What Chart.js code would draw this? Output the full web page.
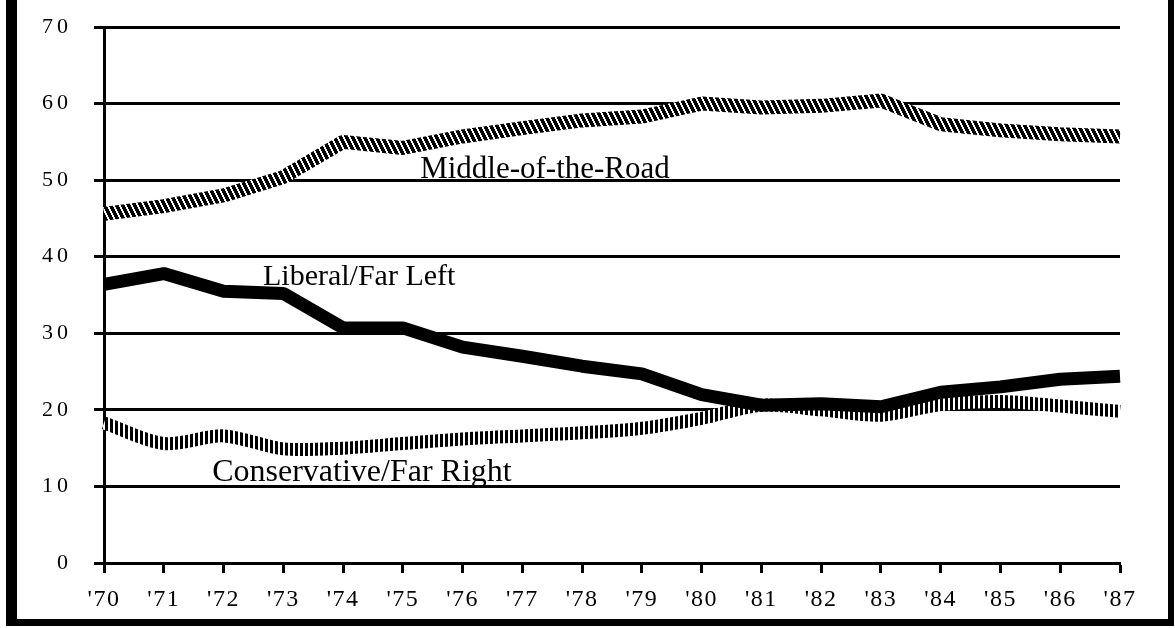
<!DOCTYPE html>
<html><head><meta charset="utf-8">
<script src="https://cdn.jsdelivr.net/npm/chart.js@4.4.1/dist/chart.umd.min.js"></script>
<style>html,body{margin:0;padding:0;background:#fff}#wrap{width:1175px;height:628px;position:relative}</style>
</head><body><div id="wrap"><canvas id="c"></canvas></div>
<script>
const years = ["'70","'71","'72","'73","'74","'75","'76","'77","'78","'79","'80","'81","'82","'83","'84","'85","'86","'87"];
const middleOfTheRoad = [45.6,46.6,48.0,50.4,55.0,54.2,55.7,56.8,57.8,58.3,60.0,59.5,59.7,60.4,57.3,56.5,56.0,55.7];
const liberalFarLeft = [36.4,37.8,35.5,35.2,30.7,30.7,28.2,27.0,25.7,24.7,22.0,20.6,20.8,20.4,22.3,23.0,24.0,24.4];
const conservativeFarRight = [18.3,15.6,16.6,14.9,15.0,15.6,16.2,16.6,17.0,17.6,18.9,20.6,20.0,19.3,20.7,21.1,20.5,19.8];
const yTickValues = [0,10,20,30,40,50,60,70];
const seriesNames = ['Middle-of-the-Road','Liberal/Far Left','Conservative/Far Right'];

const SERIF = '"Liberation Serif", "Times New Roman", serif';

function makePattern(w, h, isBlack){
  const c = document.createElement('canvas'); c.width = w; c.height = h;
  const g = c.getContext('2d');
  g.fillStyle = '#fff'; g.fillRect(0,0,w,h);
  g.fillStyle = '#000';
  for (let y=0;y<h;y++) for (let x=0;x<w;x++) if (isBlack(x,y)) g.fillRect(x,y,1,1);
  return g.createPattern(c,'repeat');
}
const diagPattern = makePattern(6,12,(x,y)=>(((x*2 - y) % 12)+12)%12 < 8);
const vertPattern = makePattern(5,1,(x,y)=>x<3);

const frame = {
  id:'frame',
  beforeDraw(chart){const ctx=chart.ctx;ctx.save();ctx.fillStyle='#fff';ctx.fillRect(0,0,chart.width,chart.height);ctx.restore();},
  afterDraw(chart){
    const ctx=chart.ctx;ctx.save();ctx.fillStyle='#000';
    ctx.fillRect(6,0,11,626);
    ctx.fillRect(1168,0,6,626);
    ctx.fillRect(6,619,1168,7);
    ctx.restore();
  }
};
const seriesText = {
  id:'seriesText',
  afterDatasetsDraw(chart, args, opts){
    const ctx=chart.ctx, xs=chart.scales.x, ys=chart.scales.y;
    ctx.save(); ctx.fillStyle='#000'; ctx.textBaseline='alphabetic'; ctx.textAlign='left';
    opts.items.forEach(it=>{
      ctx.font = it.size+'px '+SERIF;
      ctx.fillText(it.text, xs.getPixelForValue(it.at[0]), ys.getPixelForValue(it.at[1]));
    });
    ctx.restore();
  }
};
const spacing = {
  id:'spacing',
  afterUpdate(chart){
    [['x','1.5px'],['y','4px']].forEach(([id,sp])=>{
      const s=chart.scales[id]; if(!s||s._spWrapped) return;
      const orig=s.drawLabels.bind(s);
      s.drawLabels=function(a){const c=this.ctx;c.save();c.letterSpacing=sp;orig(a);c.restore();};
      s._spWrapped=true;
    });
  }
};

new Chart(document.getElementById('c'), {
  type:'line',
  data:{
    labels: years,
    datasets:[
      {label:seriesNames[0], data:middleOfTheRoad, borderColor:diagPattern, borderWidth:14, pointRadius:0, tension:0, borderCapStyle:'butt', borderJoinStyle:'bevel', order:1},
      {label:seriesNames[1], data:liberalFarLeft, borderColor:'#000', borderWidth:13, pointRadius:0, tension:0, borderCapStyle:'butt', borderJoinStyle:'bevel', order:2},
      {label:seriesNames[2], data:conservativeFarRight, borderColor:vertPattern, borderWidth:13, pointRadius:0, tension:0.3, borderCapStyle:'butt', order:3}
    ]
  },
  options:{
    responsive:true, maintainAspectRatio:false, devicePixelRatio:1, animation:false,
    layout:{padding:{left:0, top:27, right:55, bottom:0}},
    plugins:{legend:{display:false}, tooltip:{enabled:false},
      seriesText:{items:[
        {text:seriesNames[0], at:[5.29,50.3], size:31},
        {text:seriesNames[1], at:[2.66,36.3], size:30},
        {text:seriesNames[2], at:[1.81,10.7], size:32}
      ]}
    },
    scales:{
      x:{
        offset:false,
        grid:{drawOnChartArea:false, drawTicks:true, tickLength:10, tickWidth:3, tickColor:'#000'},
        border:{display:true, color:'#000', width:3},
        ticks:{color:'#000', font:{family:SERIF, size:24}, padding:12, maxRotation:0, autoSkip:false},
        afterFit(s){s.height=65; s.paddingLeft=0; s.paddingRight=0;}
      },
      y:{
        min:0, max:70,
        afterBuildTicks(s){s.ticks = yTickValues.map(v=>({value:v}));},
        grid:{color:'#000', lineWidth:3, tickLength:10, drawTicks:true},
        border:{display:true, color:'#000', width:3},
        ticks:{color:'#000', font:{family:SERIF, size:22}, padding:22},
        afterFit(s){s.width=104; s.paddingTop=0; s.paddingBottom=0;}
      }
    }
  },
  plugins:[frame, seriesText, spacing]
});
</script></body></html>
